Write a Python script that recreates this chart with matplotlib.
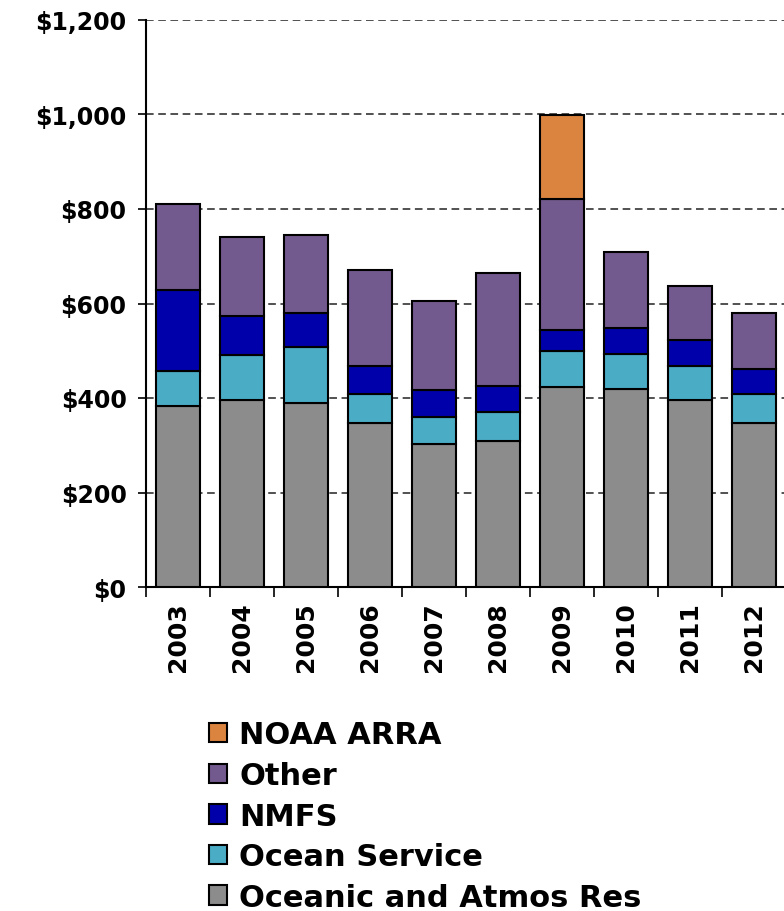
import matplotlib
matplotlib.use("Agg")
import matplotlib.pyplot as plt
import numpy as np

years = ["2003", "2004", "2005", "2006", "2007", "2008", "2009", "2010", "2011", "2012"]
oar = [384, 396, 389, 347, 302, 309, 423, 419, 396, 348]
ocean_service = [74, 95, 118, 62, 58, 61, 77, 74, 72, 61]
nmfs = [170, 82, 72, 59, 56, 56, 44, 56, 55, 52]
other = [182, 168, 166, 203, 189, 238, 277, 161, 115, 118]
noaa_arra = [0, 0, 0, 0, 0, 0, 179, 0, 0, 0]

series_names = ["Oceanic and Atmos Res", "Ocean Service", "NMFS", "Other", "NOAA ARRA"]
series_vals = [oar, ocean_service, nmfs, other, noaa_arra]
colors = ["#8C8C8C", "#4BACC6", "#0000AA", "#725A8E", "#DB8440"]
ytick_vals = [0, 200, 400, 600, 800, 1000, 1200]
ytick_labels = ["$0", "$200", "$400", "$600", "$800", "$1,000", "$1,200"]

plt.rcParams['font.family'] = ['DejaVu Sans']
plt.rcParams['font.weight'] = 'bold'

fig = plt.figure(figsize=(7.84, 9.12), dpi=100)
ax = fig.add_axes([146/784, 1-588/912, 640/784, 567/912])

x = np.arange(len(years))
bottom = np.zeros(len(years))
handles = []
for name, vals, c in zip(series_names, series_vals, colors):
    v = np.array(vals, dtype=float)
    mask = v > 0
    b = ax.bar(x[mask], v[mask], bottom=bottom[mask], width=0.69, color=c,
               edgecolor="black", linewidth=1.5, label=name, zorder=3)
    handles.append(b)
    bottom += v

ax.set_xlim(-0.5, len(years) - 0.5)
ax.set_ylim(0, 1200)
ax.set_yticks(ytick_vals)
ax.set_yticklabels(ytick_labels, fontsize=17, fontweight='bold')
ax.set_xticks(x)
ax.set_xticklabels(years, rotation=90, fontsize=18, fontweight='bold')
ax.tick_params(axis='x', which='major', length=0, pad=10)
ax.set_xticks(np.arange(-0.5, len(years) + 0.5, 1), minor=True)
ax.tick_params(axis='x', which='minor', length=7, width=1.2, direction='out')
ax.tick_params(axis='y', length=6, width=1.2, direction='out', pad=8)

for yv in ytick_vals[1:]:
    ax.axhline(yv, color="#222222", linestyle=(0, (5, 3)), linewidth=1.1, zorder=1)

for s in ["top", "right"]:
    ax.spines[s].set_visible(False)
for s in ["left", "bottom"]:
    ax.spines[s].set_linewidth(1.5)
    ax.spines[s].set_color("black")

leg = fig.legend(handles[::-1], series_names[::-1], loc='upper left',
                 bbox_to_anchor=(181/784, 1-694/912), frameon=False,
                 prop={'size': 22, 'weight': 'bold'},
                 handlelength=0.6, handleheight=0.6, handletextpad=0.4,
                 labelspacing=0.38, borderpad=0.4)

fig.savefig("out.png", dpi=100)
